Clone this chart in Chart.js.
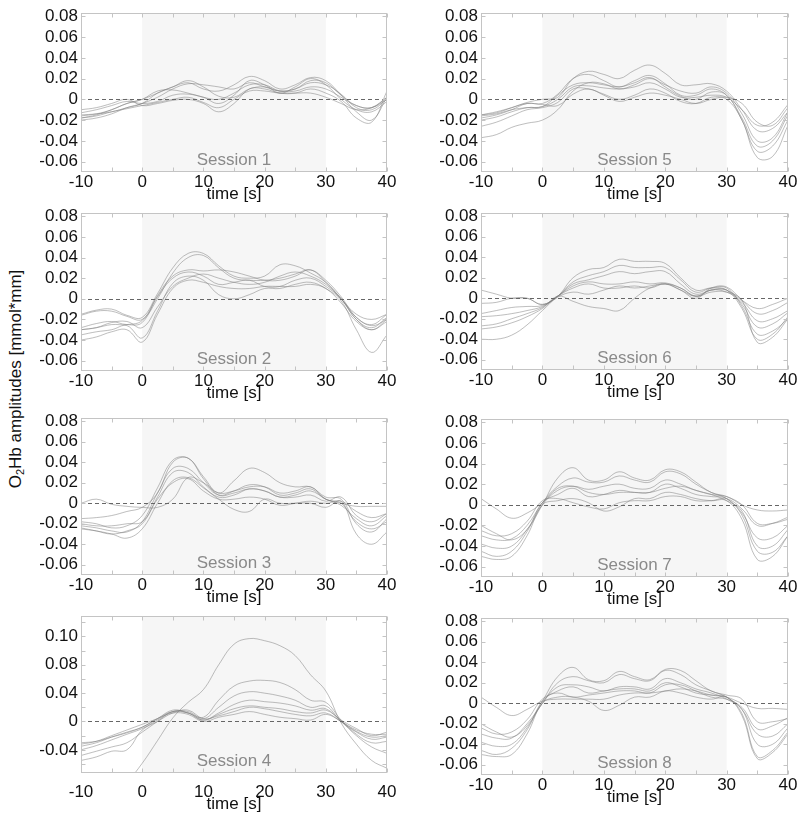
<!DOCTYPE html>
<html>
<head>
<meta charset="utf-8">
<script src="https://cdn.jsdelivr.net/npm/chart.js@4.4.1/dist/chart.umd.min.js"></script>
<style>
  body { margin: 0; background: #fff; width: 800px; height: 818px; position: relative; overflow: hidden;
         font-family: "Liberation Sans", Arial, sans-serif; }
  canvas { position: absolute; }
  #ytitle { position: absolute; left: 16px; top: 379px; transform: translate(-50%, -50%) rotate(-90deg);
            white-space: nowrap; font-size: 17px; color: #111; }
  #ytitle sub { font-size: 11px; vertical-align: -3px; }
</style>
</head>
<body>
<div id="ytitle">O<sub>2</sub>Hb amplitudes [mmol*mm]</div>
<script>
// sample times (s)
const timePoints = [-10, -7.5, -5, -2.5, 0, 2.5, 5, 7.5, 10, 12.5, 15, 17.5, 20, 22.5, 25, 27.5, 30, 32.5, 35, 37.5, 40];
const xTickValues = [-10, 0, 10, 20, 30, 40];
const yTickValues = [-0.06, -0.04, -0.02, 0, 0.02, 0.04, 0.06, 0.08];
const yTickLabels = ['-0.06', '-0.04', '-0.02', '0', '0.02', '0.04', '0.06', '0.08'];
// session 4 has its own axis labelling
const s4YTickValues = [-0.04, 0, 0.04, 0.08, 0.12];
const s4YTickLabels = ['-0.04', '0', '0.04', '0.08', '0.10'];
const sessionNames = ['Session 1', 'Session 2', 'Session 3', 'Session 4', 'Session 5', 'Session 6', 'Session 7', 'Session 8'];

// O2Hb curves per session (one row per channel)
const session1 = [
  [-0.018,-0.015,-0.010,-0.004,0.000,0.006,0.012,0.016,0.010,0.008,0.014,0.022,0.018,0.010,0.014,0.021,0.018,0.004,-0.012,-0.020,0.002],
  [-0.020,-0.018,-0.014,-0.008,-0.004,0.002,0.010,0.015,0.014,0.012,0.010,0.016,0.012,0.008,0.010,0.016,0.014,0.005,-0.008,-0.010,0.000],
  [-0.016,-0.014,-0.010,-0.004,0.000,0.008,0.009,0.006,0.002,0.000,0.006,0.014,0.014,0.008,0.008,0.012,0.010,0.002,-0.006,-0.008,0.002],
  [-0.013,-0.010,-0.006,-0.002,-0.004,-0.002,0.004,0.005,0.002,-0.004,0.004,0.018,0.014,0.006,0.012,0.020,0.014,0.000,-0.010,-0.012,-0.002],
  [-0.010,-0.008,-0.004,0.000,-0.006,-0.004,-0.001,0.000,-0.004,-0.012,-0.004,0.010,0.010,0.006,0.006,0.010,0.006,-0.002,-0.018,-0.022,0.008],
  [-0.015,-0.014,-0.012,-0.008,-0.004,0.006,0.012,0.018,0.012,0.003,0.002,0.010,0.012,0.008,0.010,0.018,0.016,0.004,-0.006,-0.008,0.000],
  [-0.018,-0.016,-0.012,-0.009,-0.006,-0.003,0.000,0.002,-0.003,-0.008,0.000,0.008,0.008,0.006,0.006,0.006,0.002,-0.004,-0.010,-0.008,0.002]
];
const session2 = [
  [-0.015,-0.011,-0.010,-0.016,-0.018,0.005,0.030,0.044,0.044,0.032,0.022,0.020,0.022,0.033,0.032,0.025,0.016,0.000,-0.020,-0.030,-0.020],
  [-0.016,-0.012,-0.012,-0.017,-0.020,0.000,0.025,0.040,0.042,0.030,0.020,0.018,0.018,0.020,0.024,0.028,0.018,0.002,-0.018,-0.025,-0.015],
  [-0.028,-0.024,-0.022,-0.025,-0.023,0.003,0.022,0.028,0.027,0.028,0.026,0.022,0.018,0.018,0.022,0.028,0.016,0.000,-0.015,-0.020,-0.015],
  [-0.030,-0.028,-0.025,-0.025,-0.021,0.002,0.020,0.026,0.022,0.014,0.016,0.018,0.012,0.012,0.018,0.020,0.012,0.000,-0.020,-0.028,-0.018],
  [-0.035,-0.032,-0.030,-0.026,-0.038,-0.012,0.015,0.022,0.018,0.004,0.000,0.004,0.010,0.010,0.014,0.016,0.010,-0.002,-0.030,-0.052,-0.035],
  [-0.040,-0.037,-0.032,-0.030,-0.042,-0.015,0.010,0.018,0.016,0.012,0.010,0.010,0.012,0.012,0.012,0.014,0.010,-0.004,-0.022,-0.030,-0.022],
  [-0.030,-0.028,-0.023,-0.022,-0.028,-0.008,0.012,0.020,0.024,0.020,0.016,0.014,0.016,0.022,0.026,0.022,0.014,0.000,-0.018,-0.026,-0.020]
];
const session3 = [
  [0.000,0.004,-0.001,-0.003,-0.004,-0.004,0.004,0.025,0.020,0.010,0.012,0.016,0.016,0.010,0.012,0.016,0.004,0.000,-0.003,-0.003,-0.003],
  [-0.015,-0.014,-0.012,-0.008,-0.004,0.010,0.040,0.044,0.024,0.008,0.010,0.014,0.012,0.006,0.008,0.012,0.004,-0.002,-0.015,-0.022,-0.012],
  [-0.018,-0.020,-0.024,-0.022,-0.012,0.015,0.042,0.044,0.026,0.010,0.022,0.034,0.030,0.020,0.016,0.016,0.006,0.004,-0.020,-0.028,-0.015],
  [-0.022,-0.024,-0.027,-0.028,-0.018,0.010,0.034,0.034,0.020,0.008,0.012,0.018,0.016,0.008,0.010,0.014,0.004,0.000,-0.018,-0.025,-0.018],
  [-0.024,-0.027,-0.030,-0.027,-0.020,0.006,0.030,0.030,0.016,0.006,0.008,0.014,0.012,0.006,0.006,0.008,0.002,0.006,-0.012,-0.018,-0.010],
  [-0.025,-0.027,-0.030,-0.034,-0.025,0.000,0.022,0.025,0.015,0.004,-0.006,-0.008,0.004,0.000,0.000,0.000,-0.004,0.002,-0.030,-0.040,-0.028],
  [-0.020,-0.022,-0.022,-0.020,-0.018,0.004,0.020,0.024,0.012,0.004,0.004,0.006,0.004,-0.002,0.000,0.002,0.000,0.002,-0.008,-0.014,-0.010]
];
const session4 = [
  [-0.120,-0.110,-0.100,-0.085,-0.059,-0.027,0.005,0.027,0.045,0.080,0.109,0.117,0.114,0.107,0.093,0.066,0.043,-0.002,-0.032,-0.055,-0.066],
  [-0.035,-0.030,-0.022,-0.015,-0.008,0.004,0.014,0.012,0.006,0.030,0.050,0.057,0.058,0.055,0.045,0.030,0.027,0.002,-0.018,-0.030,-0.028],
  [-0.040,-0.034,-0.026,-0.018,-0.010,0.002,0.014,0.014,0.004,0.020,0.036,0.042,0.040,0.036,0.030,0.020,0.022,0.000,-0.015,-0.025,-0.022],
  [-0.048,-0.042,-0.036,-0.030,-0.015,0.000,0.014,0.012,0.002,0.012,0.024,0.030,0.028,0.026,0.022,0.016,0.018,0.000,-0.020,-0.036,-0.045],
  [-0.030,-0.028,-0.022,-0.016,-0.008,0.004,0.016,0.012,0.002,0.010,0.018,0.022,0.020,0.018,0.014,0.012,0.016,0.002,-0.010,-0.020,-0.015],
  [-0.055,-0.050,-0.042,-0.040,-0.012,0.000,0.012,0.016,0.004,0.008,0.014,0.020,0.018,0.014,0.010,0.008,0.012,0.000,-0.012,-0.018,-0.018],
  [-0.032,-0.028,-0.020,-0.012,-0.004,0.004,0.012,0.010,0.000,0.006,0.010,0.014,0.010,0.006,0.004,0.002,0.010,0.000,-0.014,-0.022,-0.020]
];
const session5 = [
  [-0.015,-0.013,-0.008,-0.003,0.000,0.002,0.020,0.027,0.024,0.020,0.028,0.033,0.025,0.014,0.014,0.015,0.008,-0.010,-0.030,-0.028,-0.012],
  [-0.018,-0.015,-0.010,-0.004,-0.004,0.005,0.020,0.024,0.018,0.012,0.018,0.023,0.015,0.004,0.004,0.010,0.004,-0.018,-0.045,-0.040,-0.015],
  [-0.020,-0.017,-0.012,-0.008,-0.007,0.004,0.014,0.016,0.014,0.012,0.016,0.021,0.012,0.003,0.000,0.007,0.004,-0.020,-0.050,-0.045,-0.020],
  [-0.016,-0.014,-0.010,-0.008,-0.007,0.000,0.012,0.013,0.011,0.010,0.012,0.016,0.010,0.002,0.002,0.004,0.002,-0.010,-0.025,-0.022,-0.005],
  [-0.026,-0.022,-0.016,-0.010,-0.008,-0.003,0.010,0.010,0.005,0.000,0.004,0.010,0.006,-0.002,-0.004,0.002,0.000,-0.020,-0.056,-0.055,-0.025],
  [-0.037,-0.034,-0.027,-0.023,-0.020,-0.010,0.008,0.016,0.015,0.010,0.014,0.020,0.014,0.008,0.006,0.012,0.006,-0.014,-0.040,-0.037,-0.012],
  [-0.015,-0.012,-0.008,-0.004,-0.005,-0.006,0.005,0.010,0.004,-0.002,0.002,0.006,0.004,0.000,-0.004,0.000,0.002,-0.004,-0.022,-0.025,-0.008]
];
const session6 = [
  [0.008,0.004,0.000,0.000,-0.006,0.002,0.020,0.028,0.030,0.038,0.036,0.036,0.034,0.020,0.008,0.010,0.008,-0.010,-0.040,-0.035,-0.018],
  [-0.005,-0.004,0.000,0.000,-0.006,0.002,0.016,0.022,0.026,0.032,0.030,0.030,0.030,0.018,0.006,0.010,0.010,-0.008,-0.035,-0.032,-0.020],
  [-0.015,-0.012,-0.009,-0.008,-0.007,0.002,0.014,0.018,0.022,0.026,0.024,0.026,0.026,0.014,0.004,0.008,0.008,-0.006,-0.028,-0.025,-0.014],
  [-0.018,-0.017,-0.015,-0.012,-0.008,0.002,0.012,0.016,0.014,0.014,0.016,0.014,0.015,0.010,0.002,0.008,0.006,-0.004,-0.022,-0.020,-0.012],
  [-0.027,-0.025,-0.020,-0.015,-0.009,0.002,0.010,0.014,0.010,0.010,0.012,0.010,0.014,0.008,0.000,0.010,0.011,-0.002,-0.015,-0.012,-0.004],
  [-0.040,-0.040,-0.036,-0.026,-0.012,0.001,0.006,0.004,0.008,0.012,0.010,0.012,0.014,0.008,0.002,0.008,0.008,-0.002,-0.010,-0.006,0.000],
  [-0.030,-0.028,-0.024,-0.018,-0.010,0.002,-0.003,-0.008,-0.010,-0.012,0.000,0.010,0.014,0.010,0.002,0.006,0.006,-0.002,-0.043,-0.038,-0.020]
];
const session7 = [
  [0.006,-0.004,-0.013,-0.008,0.002,0.016,0.018,0.012,0.010,0.012,0.012,0.012,0.016,0.018,0.014,0.010,0.008,0.000,-0.005,-0.006,-0.005],
  [-0.020,-0.028,-0.034,-0.024,0.000,0.026,0.036,0.024,0.024,0.032,0.026,0.024,0.034,0.032,0.022,0.012,0.008,0.000,-0.018,-0.018,-0.014],
  [-0.030,-0.034,-0.033,-0.020,0.002,0.018,0.026,0.022,0.022,0.028,0.024,0.022,0.032,0.030,0.020,0.012,0.006,-0.008,-0.032,-0.032,-0.020],
  [-0.038,-0.042,-0.040,-0.024,0.000,0.014,0.018,0.015,0.018,0.020,0.016,0.016,0.024,0.020,0.014,0.010,0.004,-0.006,-0.040,-0.040,-0.024],
  [-0.045,-0.050,-0.045,-0.026,0.002,0.010,0.016,0.008,0.010,0.014,0.012,0.012,0.020,0.016,0.010,0.008,0.006,-0.010,-0.045,-0.046,-0.030],
  [-0.050,-0.053,-0.050,-0.030,0.000,0.004,0.006,0.002,-0.006,-0.002,0.006,0.006,0.012,0.010,0.006,0.004,0.004,-0.014,-0.053,-0.050,-0.030],
  [-0.025,-0.030,-0.028,-0.016,0.004,0.006,0.002,-0.002,-0.004,0.002,0.004,0.004,0.008,0.008,0.004,0.004,0.006,-0.004,-0.020,-0.018,-0.012]
];
const session8 = [
  [0.006,-0.004,-0.012,-0.006,0.002,0.004,0.004,0.004,0.004,0.008,0.010,0.010,0.012,0.014,0.012,0.008,0.006,0.000,-0.005,-0.005,-0.006],
  [-0.020,-0.028,-0.033,-0.022,0.002,0.026,0.035,0.023,0.022,0.031,0.026,0.023,0.033,0.032,0.022,0.012,0.008,0.004,-0.018,-0.018,-0.015],
  [-0.030,-0.034,-0.034,-0.020,0.000,0.020,0.026,0.022,0.020,0.028,0.024,0.022,0.032,0.028,0.018,0.012,0.006,-0.006,-0.030,-0.032,-0.020],
  [-0.038,-0.042,-0.040,-0.024,0.000,0.016,0.018,0.016,0.012,0.016,0.016,0.014,0.024,0.020,0.014,0.010,0.004,-0.006,-0.040,-0.040,-0.024],
  [-0.046,-0.050,-0.044,-0.026,0.002,0.012,0.016,0.010,0.012,0.014,0.014,0.012,0.020,0.016,0.010,0.008,0.006,-0.010,-0.052,-0.046,-0.028],
  [-0.050,-0.052,-0.050,-0.030,0.000,0.006,0.006,0.002,-0.007,-0.002,0.006,0.006,0.012,0.010,0.006,0.004,0.006,-0.012,-0.054,-0.048,-0.030],
  [-0.024,-0.030,-0.028,-0.016,0.004,0.010,0.006,0.008,0.010,0.012,0.012,0.010,0.018,0.018,0.012,0.006,0.004,-0.004,-0.025,-0.022,-0.014]
];

const FONT = '"Liberation Sans", Arial, sans-serif';

// panel placement (plot box edges in page pixels)
const panels = [
  { name: sessionNames[0], lines: session1, left: 0,   top: 8,   bottom: 172 },
  { name: sessionNames[1], lines: session2, left: 0,   top: 208, bottom: 371 },
  { name: sessionNames[2], lines: session3, left: 0,   top: 413, bottom: 575 },
  { name: sessionNames[3], lines: session4, left: 0,   top: 611, bottom: 773, big: true },
  { name: sessionNames[4], lines: session5, left: 400, top: 8,   bottom: 172 },
  { name: sessionNames[5], lines: session6, left: 400, top: 208, bottom: 370 },
  { name: sessionNames[6], lines: session7, left: 400, top: 414, bottom: 577 },
  { name: sessionNames[7], lines: session8, left: 400, top: 613, bottom: 775 }
];

// shaded stimulus block, zero line, frame with inward ticks, session name
const panelDecor = {
  id: 'panelDecor',
  beforeDatasetsDraw(chart) {
    const { ctx, chartArea: a, scales: { x } } = chart;
    const x0 = x.getPixelForValue(0), x1 = x.getPixelForValue(30);
    ctx.save();
    ctx.fillStyle = '#f6f6f6';
    ctx.fillRect(x0, a.top, x1 - x0, a.bottom - a.top);
    ctx.restore();
  },
  afterDatasetsDraw(chart, args, opts) {
    const { ctx, chartArea: a, scales: { x, y } } = chart;
    ctx.save();
    // dashed zero line
    const y0 = Math.round(y.getPixelForValue(0)) + 0.5;
    ctx.strokeStyle = '#666';
    ctx.lineWidth = 1;
    ctx.setLineDash([4, 3]);
    ctx.beginPath();
    ctx.moveTo(a.left, y0);
    ctx.lineTo(a.right, y0);
    ctx.stroke();
    ctx.setLineDash([]);
    // frame
    const L = Math.round(a.left) + 0.5, R = Math.round(a.right) - 0.5;
    const T = Math.round(a.top) + 0.5, B = Math.round(a.bottom) - 0.5;
    ctx.strokeStyle = '#c4c4c4';
    ctx.strokeRect(L, T, R - L, B - T);
    // inward tick marks
    ctx.beginPath();
    for (let t = -10; t <= 40; t += 5) {
      const px = Math.round(x.getPixelForValue(t)) + 0.5;
      ctx.moveTo(px, B); ctx.lineTo(px, B - 4);
      ctx.moveTo(px, T); ctx.lineTo(px, T + 4);
    }
    const k0 = Math.ceil(y.min / 0.02 - 1e-6), k1 = Math.floor(y.max / 0.02 + 1e-6);
    for (let k = k0; k <= k1; k++) {
      const py = Math.round(y.getPixelForValue(k * 0.02)) + 0.5;
      ctx.moveTo(L, py); ctx.lineTo(L + 4, py);
      ctx.moveTo(R, py); ctx.lineTo(R - 4, py);
    }
    ctx.stroke();
    // session label
    ctx.fillStyle = '#8a8a8a';
    ctx.font = '17px ' + FONT;
    ctx.textAlign = 'center';
    ctx.textBaseline = 'middle';
    ctx.fillText(opts.label, x.getPixelForValue(15), a.bottom - 12);
    ctx.restore();
  }
};

function drawPanel(p) {
  const padTop = 8, axisH = 45;
  const w = 400, h = p.bottom - p.top + padTop + axisH;
  const canvas = document.createElement('canvas');
  canvas.width = w; canvas.height = h;
  canvas.style.left = p.left + 'px';
  canvas.style.top = (p.top - padTop) + 'px';
  canvas.style.width = w + 'px'; canvas.style.height = h + 'px';
  document.body.appendChild(canvas);

  const yTicks = p.big ? s4YTickValues : yTickValues;
  const yLabels = p.big ? s4YTickLabels : yTickLabels;

  const datasets = p.lines.map(vals => ({
    data: vals.map((v, i) => ({ x: timePoints[i], y: v })),
    borderColor: 'rgba(125,125,125,0.5)',
    borderWidth: 1,
    pointRadius: 0,
    tension: 0.4,
    fill: false,
    clip: 0
  }));

  new Chart(canvas, {
    type: 'line',
    data: { datasets },
    options: {
      responsive: false,
      animation: false,
      layout: { autoPadding: false,
                padding: { top: padTop, right: p.left === 0 ? 13 : 12, left: 0, bottom: 0 } },
      plugins: { legend: { display: false }, tooltip: { enabled: false }, panelDecor: { label: p.name } },
      scales: {
        x: {
          type: 'linear', min: -10, max: 40,
          afterBuildTicks: s => { s.ticks = xTickValues.map(v => ({ value: v })); },
          afterFit: s => { s.height = axisH; },
          // hidden tick length pushes session 4 labels lower
          grid: { display: false, drawTicks: !!p.big, tickLength: 9 },
          border: { display: false },
          ticks: { padding: 0, color: '#111', autoSkip: false, maxRotation: 0,
                   font: { size: 17, family: FONT } },
          title: { display: true, text: 'time [s]', color: '#111', font: { size: 17, family: FONT },
                   padding: { top: 0, bottom: p.big ? 3 : 12 } }
        },
        y: {
          type: 'linear',
          min: p.big ? -0.0727 : -0.070,
          max: p.big ? 0.1486 : 0.083,
          afterBuildTicks: s => { s.ticks = yTicks.map(v => ({ value: v })); },
          afterFit: s => { s.width = 81; },
          grid: { display: false, drawTicks: false },
          border: { display: false },
          ticks: { padding: 3, color: '#111', autoSkip: false, font: { size: 17, family: FONT },
                   callback: (v, i) => yLabels[i] }
        }
      }
    },
    plugins: [panelDecor]
  });
}

panels.forEach(drawPanel);
</script>
</body>
</html>
